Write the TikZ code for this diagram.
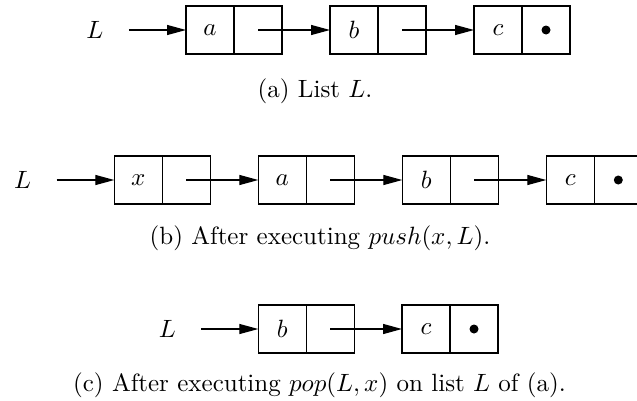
\documentclass[tikz,border=0pt]{standalone}
\usetikzlibrary{arrows.meta,positioning}
\begin{document}
\begin{tikzpicture}[x=0.4pt,y=-0.4pt,
  cell/.style={draw, line width=0.5pt, minimum width=19.2pt, minimum height=19.2pt, inner sep=0pt, outer sep=0pt},
  ptr/.style={line width=0.5pt, -{Triangle[length=7.6pt,width=4pt]}},
  lstart/.style={ptr, shorten <=6.6pt},
  lab/.style={inner sep=3.33pt},
  captext/.style={inner sep=0pt}]
\useasboundingbox (0,0) rectangle (637,400);
% (a)
\node[lab] (La) at (95,30) {$L$};
\node[cell] (a1) at (210,30) {$a$};
\node[cell, right=0pt of a1] (a1p) {};
\node[cell] (b1) at (354,30) {$b$};
\node[cell, right=0pt of b1] (b1p) {};
\node[cell] (c1) at (498,30) {$c$};
\node[cell, right=0pt of c1] (c1p) {};
\fill (c1p.center) circle (1.8pt);
\draw[lstart] (La.east) -- (a1.west);
\draw[ptr] (a1p.center) -- (b1.west);
\draw[ptr] (b1p.center) -- (c1.west);
\node[captext] (capa) at (315,91) {(a) List $L$.};
% (b)
\node[lab] (Lb) at (22.7,180) {$L$};
\node[cell] (x2) at (138.3,180) {$x$};
\node[cell, right=0pt of x2] (x2p) {};
\node[cell] (a2) at (282.3,180) {$a$};
\node[cell, right=0pt of a2] (a2p) {};
\node[cell] (b2) at (426.3,180) {$b$};
\node[cell, right=0pt of b2] (b2p) {};
\node[cell] (c2) at (570.3,180) {$c$};
\node[cell, right=0pt of c2] (c2p) {};
\fill (c2p.center) circle (1.8pt);
\draw[lstart] (Lb.east) -- (x2.west);
\draw[ptr] (x2p.center) -- (a2.west);
\draw[ptr] (a2p.center) -- (b2.west);
\draw[ptr] (b2p.center) -- (c2.west);
\node[captext] (capb) at (320,238) {(b) After executing $push(x,L)$.};
% (c)
\node[lab] (Lc) at (167.3,329) {$L$};
\node[cell] (b3) at (282.3,329) {$b$};
\node[cell, right=0pt of b3] (b3p) {};
\node[cell] (c3) at (426,329) {$c$};
\node[cell, right=0pt of c3] (c3p) {};
\fill (c3p.center) circle (1.8pt);
\draw[lstart] (Lc.east) -- (b3.west);
\draw[ptr] (b3p.center) -- (c3.west);
\node[captext] (capc) at (319.5,385) {(c) After executing $pop(L,x)$ on list $L$ of (a).};
\end{tikzpicture}
\end{document}
